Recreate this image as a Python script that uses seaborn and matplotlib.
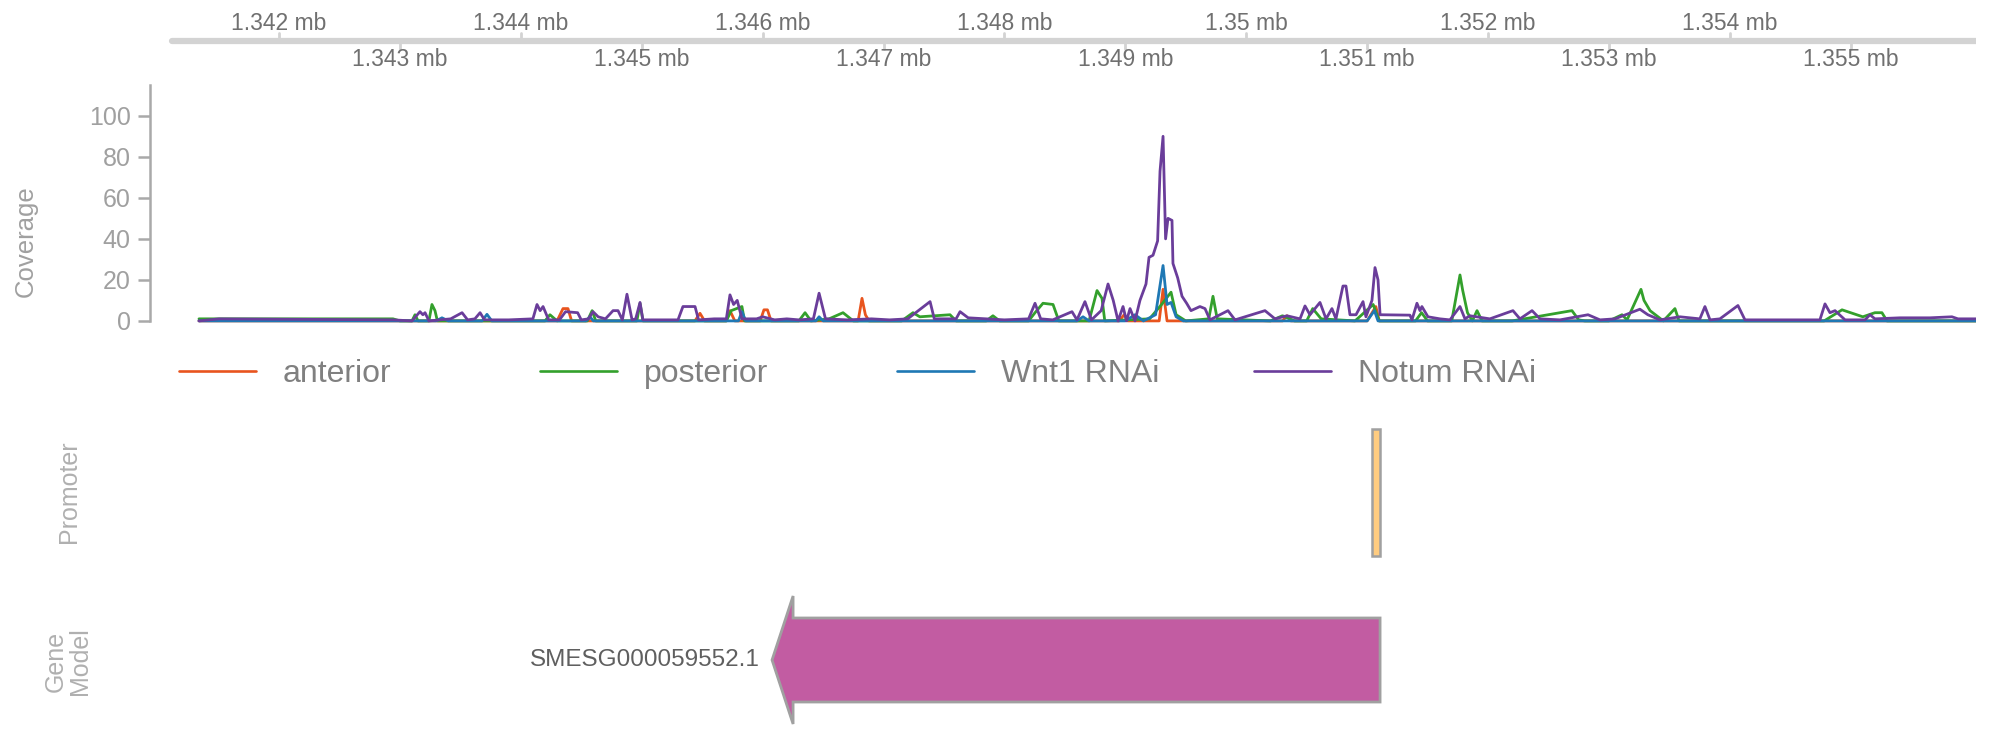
import numpy as np
import pandas as pd
import matplotlib
matplotlib.use("Agg")
from matplotlib import pyplot as plt
from matplotlib.patches import Rectangle, Polygon
import seaborn as sns

# regiao mostrada (bp)
region_start = 1341115
region_end = 1356036
view_left = 1340933  # um pouco antes, para o eixo y da cobertura
ruler_ticks = list(range(1342000, 1356000, 1000))

promoter_start = 1351041
promoter_end = 1351107

gene_name = "SMESG000059552.1"
gene_start = 1346078
gene_end = 1351107
gene_strand = "-"

samples = ["anterior", "posterior", "Wnt1 RNAi", "Notum RNAi"]
colores = ["#E8541E", "#33A02C", "#1F78B4", "#6A3D9A"]

# cobertura
anterior_pos = [1341338, 1344300, 1344349, 1344390, 1344420, 1345440, 1345482, 1345520,
                1345700, 1345730, 1345770, 1345980, 1346011, 1346040, 1346070, 1346790,
                1346822, 1346850, 1346880, 1348950, 1348990, 1349020, 1349280, 1349312,
                1349345, 1349500, 1350300, 1350337, 1350370, 1351000, 1351072, 1351100,
                1356036]
anterior_cov = [0, 0, 6, 6, 0, 0, 3.7, 0,
                0, 5, 0, 0, 5.4, 5.4, 0, 0,
                11, 3, 0, 0, 3, 0, 0, 15.4,
                0, 0, 0, 2.5, 0, 0, 7, 0,
                0]

posterior_pos = [1341338, 1342943, 1343000, 1343100, 1343125, 1343150, 1343240, 1343265,
                 1343290, 1343310, 1343700, 1344200, 1344241, 1344300, 1344550, 1344590,
                 1344620, 1344960, 1344986, 1345010, 1345700, 1345740, 1345829, 1345850,
                 1346300, 1346351, 1346400, 1346550, 1346665, 1346750, 1347150, 1347244,
                 1347300, 1347550, 1347600, 1347850, 1347905, 1347960, 1348200, 1348253,
                 1348319, 1348402, 1348450, 1348700, 1348766, 1348807, 1348830, 1349200,
                 1349300, 1349378, 1349420, 1349500, 1349690, 1349725, 1349760, 1350200,
                 1350300, 1350400, 1350500, 1350550, 1350620, 1350900, 1351050, 1351100,
                 1351400, 1351450, 1351500, 1351700, 1351768, 1351790, 1351830, 1351870,
                 1351909, 1351950, 1352200, 1352300, 1352694, 1352750, 1352800, 1353000,
                 1353108, 1353150, 1353265, 1353290, 1353340, 1353450, 1353546, 1353580,
                 1354780, 1354928, 1355100, 1355200, 1355258, 1355300, 1356036]
posterior_cov = [1, 1, 0, 0, 3, 0, 0, 8,
                 5, 0, 0, 0, 3, 0, 0, 5,
                 0, 0, 8.6, 0, 0, 5, 7, 0,
                 0, 4, 0, 1, 4, 0, 0, 4,
                 2, 3, 0, 0, 2.5, 0, 0, 4,
                 8.6, 8, 0, 0, 14.8, 11, 0, 1,
                 8, 14, 3, 0, 1, 12, 1, 0,
                 2.5, 0, 0, 6, 1, 0, 8, 0,
                 0, 4, 0, 0, 22.4, 15, 4, 0,
                 5, 0, 0, 1, 5, 0.5, 0, 0,
                 3, 0.5, 15.4, 10, 5, 0, 6, 0,
                 0, 5.4, 2, 4, 4, 0, 0]

wnt1_pos = [1341338, 1343300, 1343348, 1343400, 1343680, 1343720, 1343760, 1344540,
            1344572, 1344600, 1345800, 1345829, 1345860, 1346440, 1346467, 1346500,
            1348600, 1348650, 1348700, 1349000, 1349080, 1349150, 1349250, 1349312,
            1349345, 1349378, 1349420, 1349480, 1351000, 1351060, 1351090, 1356036]
wnt1_cov = [0, 0, 1.5, 0, 0, 3.2, 0, 0,
            2, 0, 0, 4.5, 0, 0, 2, 0,
            0, 2, 0, 0, 3, 0, 3, 27,
            8, 9, 2, 0, 0, 5, 0, 0]

notum_pos = [1341338, 1341504, 1342943, 1343100, 1343166, 1343190, 1343208, 1343240,
             1343420, 1343514, 1343560, 1343620, 1343663, 1343700, 1343900, 1344100,
             1344134, 1344160, 1344184, 1344230, 1344320, 1344370, 1344470, 1344500,
             1344560, 1344597, 1344640, 1344700, 1344763, 1344804, 1344840, 1344878,
             1344920, 1344950, 1344986, 1345010, 1345300, 1345341, 1345441, 1345470,
             1345600, 1345700, 1345730, 1345760, 1345790, 1345829, 1345950, 1346000,
             1346100, 1346200, 1346300, 1346420, 1346467, 1346520, 1346700, 1346900,
             1347050, 1347200, 1347385, 1347420, 1347600, 1347633, 1347700, 1348000,
             1348200, 1348253, 1348300, 1348400, 1348559, 1348600, 1348666, 1348720,
             1348800, 1348857, 1348900, 1348940, 1348981, 1349010, 1349039, 1349080,
             1349121, 1349171, 1349196, 1349229, 1349267, 1349287, 1349312, 1349333,
             1349353, 1349386, 1349394, 1349433, 1349469, 1349507, 1349543, 1349617,
             1349659, 1349700, 1349849, 1349907, 1350155, 1350238, 1350337, 1350445,
             1350486, 1350527, 1350610, 1350660, 1350709, 1350742, 1350775, 1350800,
             1350825, 1350858, 1350908, 1350966, 1350990, 1351040, 1351065, 1351090,
             1351107, 1351354, 1351371, 1351412, 1351437, 1351453, 1351503, 1351602,
             1351685, 1351768, 1351809, 1351850, 1352015, 1352206, 1352264, 1352364,
             1352430, 1352595, 1352827, 1352926, 1353050, 1353256, 1353322, 1353421,
             1353587, 1353752, 1353794, 1353836, 1353918, 1354067, 1354125, 1354745,
             1354787, 1354828, 1354870, 1354953, 1355118, 1355159, 1355200, 1355407,
             1355655, 1355837, 1355887, 1356036]
notum_cov = [0, 1, 0.5, 0, 4.5, 3, 4, 0,
             1, 4, 0.5, 1, 4, 0.5, 0.5, 1,
             8, 5, 7, 0.5, 0.5, 4.5, 4, 0.5,
             1, 4.5, 2, 1, 5, 5, 0.5, 13,
             0.5, 1, 9, 0.5, 0.5, 7, 7, 0.5,
             1, 1, 12.7, 8, 10, 1, 1, 2,
             0.5, 1, 0.5, 1, 13.5, 1, 0.5, 1,
             0.5, 1, 9.4, 1, 1, 4.5, 1.5, 0.5,
             1, 8.6, 1, 0.5, 4.5, 0.5, 9.4, 0.5,
             5, 18, 10, 0, 7, 0, 6, 0,
             10, 18, 31, 32, 39, 73, 90, 40,
             50, 49, 28, 21, 12, 8.6, 5, 7,
             6, 0.5, 5, 0.5, 5, 1, 2.5, 1,
             7.3, 3, 9, 1, 6, 1, 10, 17,
             17, 3, 3, 9.4, 2, 10, 26, 20,
             3, 2.8, 0.5, 8.6, 5, 7, 2, 1,
             0.5, 7, 1, 2.5, 1, 5, 1, 5,
             1, 0.5, 3, 0.5, 1, 5.7, 3, 0.5,
             2, 1, 7, 0.5, 1, 7.5, 0.5, 0.5,
             8.3, 4, 5, 0.5, 0.5, 3, 1, 1.5,
             1.5, 2, 1, 1]

partes = []
for nome, p, c in [("anterior", anterior_pos, anterior_cov),
                   ("posterior", posterior_pos, posterior_cov),
                   ("Wnt1 RNAi", wnt1_pos, wnt1_cov),
                   ("Notum RNAi", notum_pos, notum_cov)]:
    partes.append(pd.DataFrame({"pos": p, "cov": c, "sample": nome}))
df = pd.concat(partes, ignore_index=True)

sns.set_theme(style="white")
plt.rcParams["font.family"] = ["Liberation Sans", "DejaVu Sans"]

W, H = 2000, 750
fig = plt.figure(figsize=(20, 7.5), dpi=100)


def caixa(x0, y0, x1, y1):
    # pixels (origem no topo) -> fracao da figura
    return [x0 / W, 1 - y1 / H, (x1 - x0) / W, (y1 - y0) / H]


cinza = "#A9A9A9"

# regua do topo
ax_r = fig.add_axes(caixa(150, 5, 1976, 77))
ax_r.set_xlim(view_left, region_end)
ax_r.set_ylim(-1, 1)
ax_r.axis("off")
ax_r.plot([region_start, region_end], [0, 0], color="#D3D3D3", lw=4.5, solid_capstyle="round")
for i, t in enumerate(ruler_ticks):
    lado = 1 if i % 2 == 0 else -1
    ax_r.plot([t, t], [0, lado * 0.22], color="#D3D3D3", lw=2)
    ax_r.text(t, lado * 0.5, f"{t / 1e6:g} mb", ha="center", va="center",
              fontsize=16.5, color="#707070")

# cobertura
ax_c = fig.add_axes(caixa(150, 83, 1976, 325))
sns.lineplot(data=df, x="pos", y="cov", hue="sample", hue_order=samples,
             palette=colores, estimator=None, lw=2.0, ax=ax_c)
ax_c.set_xlim(view_left, region_end)
ax_c.set_ylim(-2, 116)
ax_c.set_yticks([0, 20, 40, 60, 80, 100])
ax_c.set_xticks([])
ax_c.set_xlabel("")
ax_c.set_ylabel("")
for s in ["top", "right", "bottom"]:
    ax_c.spines[s].set_visible(False)
ax_c.spines["left"].set_bounds(0, 115)
ax_c.spines["left"].set_color(cinza)
ax_c.spines["left"].set_linewidth(1.8)
ax_c.tick_params(axis="y", length=9, width=1.8, color=cinza, pad=5,
                 labelsize=18, labelcolor="#A0A0A0", left=True)
fig.text(26 / W, 1 - 241 / H, "Coverage", rotation=90, ha="center", va="center",
         fontsize=18.5, color="#A0A0A0")

handles, labels = ax_c.get_legend_handles_labels()
ax_c.get_legend().remove()
for h, l, xpix in zip(handles, labels, [179, 540, 897, 1254]):
    leg = fig.legend([h], [l], loc="center left", bbox_to_anchor=(xpix / W, 1 - 374 / H),
                     frameon=False, borderpad=0, borderaxespad=0, handlelength=2.4,
                     handletextpad=0.85, fontsize=23, labelcolor="#808080")
    for lh in leg.legend_handles:
        lh.set_linewidth(1.9)

# promotor
ax_p = fig.add_axes(caixa(150, 420, 1976, 565))
ax_p.set_xlim(view_left, region_end)
ax_p.set_ylim(0, 1)
ax_p.axis("off")
ax_p.add_patch(Rectangle((promoter_start, 0.06), promoter_end - promoter_start, 0.88,
                         facecolor="#FFCC80", edgecolor="#A0A0A0", lw=1.8))
fig.text(69 / W, 1 - 492 / H, "Promoter", rotation=90, ha="center", va="center",
         fontsize=18, color="#B0B0B0")

# modelo do gene
ax_g = fig.add_axes(caixa(150, 585, 1976, 735))
ax_g.set_xlim(view_left, region_end)
ax_g.set_ylim(-75, 75)
ax_g.axis("off")
cabeca = 174
corpo, aba = 42, 64
if gene_strand == "-":
    pts = [(gene_start, 0), (gene_start + cabeca, aba), (gene_start + cabeca, corpo),
           (gene_end, corpo), (gene_end, -corpo), (gene_start + cabeca, -corpo),
           (gene_start + cabeca, -aba)]
else:
    pts = [(gene_end, 0), (gene_end - cabeca, aba), (gene_end - cabeca, corpo),
           (gene_start, corpo), (gene_start, -corpo), (gene_end - cabeca, -corpo),
           (gene_end - cabeca, -aba)]
ax_g.text(gene_start - 100, 0, gene_name, ha="right", va="center",
          fontsize=17.5, color="#5F5F5F")
ax_g.add_patch(Polygon(pts, closed=True, facecolor="#C25CA2", edgecolor="#A0A0A0", lw=2))
fig.text(68 / W, 1 - 661 / H, "Gene\nModel", rotation=90, ha="center", va="center",
         fontsize=18, color="#B0B0B0", linespacing=1.0, multialignment="center")

fig.savefig("out.png", dpi=100)
